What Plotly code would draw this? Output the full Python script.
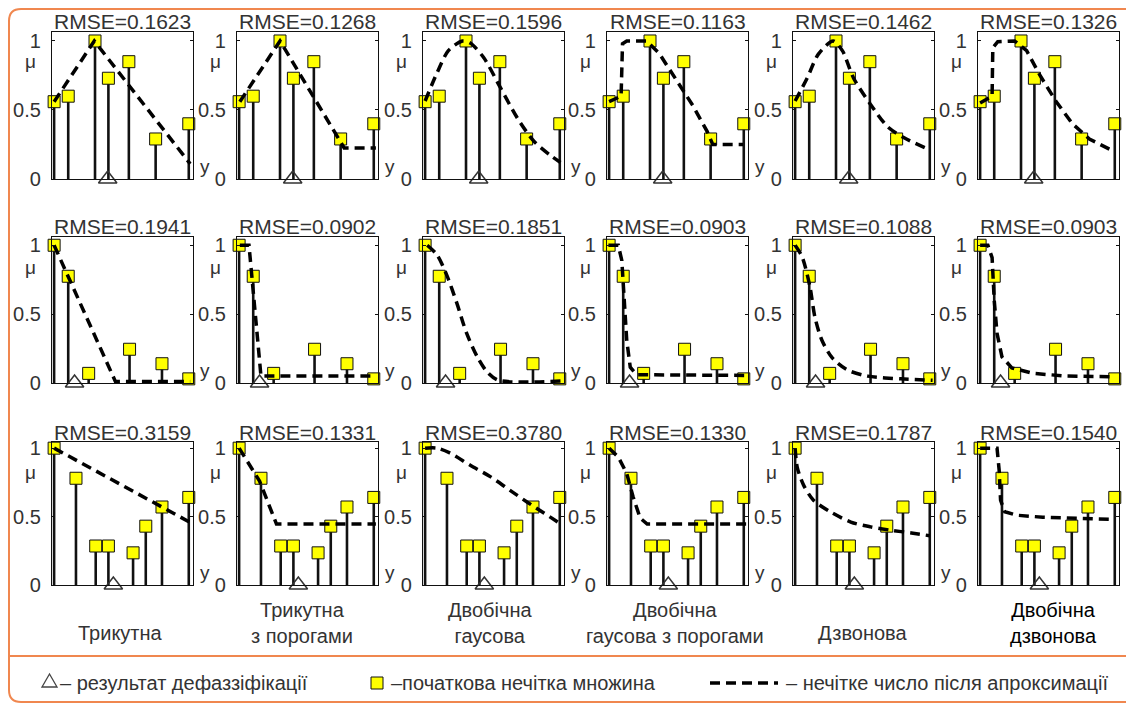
import plotly.graph_objects as go

# ---------------- data ----------------
# normalized abscissa of the initial fuzzy set points (0..1 across each panel)
row1_x = [0.015, 0.115, 0.305, 0.40, 0.545, 0.735, 0.97]
row1_mu = [0.56, 0.60, 1.0, 0.73, 0.85, 0.29, 0.40]
row2_x = [0.015, 0.115, 0.26, 0.55, 0.78, 0.97]
row2_mu = [1.0, 0.775, 0.07, 0.245, 0.14, 0.03]
row3_x = [0.015, 0.17, 0.31, 0.40, 0.575, 0.665, 0.78, 0.97]
row3_mu = [1.0, 0.78, 0.285, 0.285, 0.235, 0.43, 0.57, 0.64]

defuzz = [0.395, 0.16, 0.435]

rmse_row1 = ["0.1623", "0.1268", "0.1596", "0.1163", "0.1462", "0.1326"]
rmse_row2 = ["0.1941", "0.0902", "0.1851", "0.0903", "0.1088", "0.0903"]
rmse_row3 = ["0.3159", "0.1331", "0.3780", "0.1330", "0.1787", "0.1540"]

captions = ["Трикутна", "Трикутна<br>з порогами", "Двобічна<br>гаусова",
            "Двобічна<br>гаусова з порогами", "Дзвонова", "Двобічна<br>дзвонова"]

# fitted membership functions (dashed)
tri_r1_x = [0.015, 0.30, 0.98]
tri_r1_y = [0.56, 1.0, 0.11]
trith_r1_x = [0.02, 0.305, 0.76, 0.985]
trith_r1_y = [0.56, 1.0, 0.225, 0.225]
gauss_r1_x = [0.015, 0.10, 0.18, 0.28, 0.335, 0.43, 0.55, 0.67, 0.785, 0.905, 0.975]
gauss_r1_y = [0.565, 0.77, 0.93, 1.0, 0.985, 0.88, 0.66, 0.44, 0.275, 0.17, 0.12]
gaussth_r1_x = [0.015, 0.10, 0.11, 0.14, 0.28, 0.37, 0.49, 0.61, 0.71, 0.75, 0.965]
gaussth_r1_y = [0.56, 0.60, 0.98, 1.0, 1.0, 0.91, 0.72, 0.53, 0.345, 0.25, 0.25]
bell_r1_x = [0.015, 0.10, 0.18, 0.285, 0.35, 0.43, 0.55, 0.67, 0.785, 0.94]
bell_r1_y = [0.565, 0.73, 0.905, 1.0, 0.93, 0.73, 0.54, 0.38, 0.30, 0.225]
bell2_r1_x = [0.015, 0.10, 0.105, 0.14, 0.26, 0.345, 0.44, 0.555, 0.67, 0.79, 0.945]
bell2_r1_y = [0.55, 0.60, 0.95, 0.995, 1.0, 0.93, 0.75, 0.56, 0.40, 0.29, 0.21]

tri_r2_x = [0.015, 0.45, 0.98]
tri_r2_y = [1.0, 0.01, 0.01]
trith_r2_x = [0.02, 0.085, 0.17, 0.985]
trith_r2_y = [1.0, 1.0, 0.05, 0.05]
gauss_r2_x = [0.03, 0.10, 0.17, 0.24, 0.31, 0.385, 0.455, 0.535, 0.98]
gauss_r2_y = [1.0, 0.93, 0.78, 0.58, 0.36, 0.19, 0.08, 0.02, 0.015]
gaussth_r2_x = [0.01, 0.08, 0.105, 0.12, 0.14, 0.165, 0.21, 0.995]
gaussth_r2_y = [1.0, 1.0, 0.89, 0.60, 0.31, 0.115, 0.06, 0.055]
bell_r2_x = [0.015, 0.065, 0.12, 0.155, 0.205, 0.28, 0.385, 0.53, 0.765, 0.99]
bell_r2_y = [1.0, 0.915, 0.70, 0.48, 0.31, 0.18, 0.095, 0.05, 0.03, 0.02]
bell2_r2_x = [0.015, 0.07, 0.10, 0.115, 0.135, 0.17, 0.24, 0.39, 0.63, 0.97]
bell2_r2_y = [1.0, 1.0, 0.91, 0.60, 0.36, 0.19, 0.11, 0.07, 0.05, 0.045]

tri_r3_x = [0.015, 0.975]
tri_r3_y = [1.0, 0.46]
trith_r3_x = [0.015, 0.16, 0.28, 0.985]
trith_r3_y = [1.0, 0.76, 0.445, 0.445]
gauss_r3_x = [0.015, 0.10, 0.19, 0.335, 0.48, 0.62, 0.74, 0.86, 0.955]
gauss_r3_y = [1.0, 1.0, 0.965, 0.875, 0.79, 0.69, 0.605, 0.525, 0.46]
gaussth_r3_x = [0.015, 0.08, 0.14, 0.185, 0.235, 0.285, 0.99]
gaussth_r3_y = [1.0, 0.935, 0.815, 0.645, 0.49, 0.445, 0.445]
bell_r3_x = [0.015, 0.03, 0.075, 0.145, 0.265, 0.41, 0.55, 0.695, 0.84, 0.97]
bell_r3_y = [1.0, 0.86, 0.73, 0.62, 0.535, 0.46, 0.425, 0.40, 0.38, 0.36]
bell2_r3_x = [0.015, 0.135, 0.15, 0.16, 0.19, 0.275, 0.46, 0.65, 0.95]
bell2_r3_y = [1.0, 1.0, 0.84, 0.62, 0.535, 0.51, 0.495, 0.49, 0.48]

# ---------------- layout helpers ----------------
OFF = 8  # the page body adds an 8px margin around the figure
W, H = 1134 - OFF, 706 - OFF
def X(px):
    return (px - OFF) / W
def Y(py):
    return 1 - (py - OFF) / H

col_left = [52, 237, 423, 607, 793, 978]
box_w = 141
row_top = [32, 237, 442]
row_bot = [179, 383, 585]
row_ytop = [1.065, 1.06, 1.045]

pts = [(row1_x, row1_mu), (row2_x, row2_mu), (row3_x, row3_mu)]
rmse = [rmse_row1, rmse_row2, rmse_row3]
fits = [
    [(tri_r1_x, tri_r1_y), (trith_r1_x, trith_r1_y), (gauss_r1_x, gauss_r1_y),
     (gaussth_r1_x, gaussth_r1_y), (bell_r1_x, bell_r1_y), (bell2_r1_x, bell2_r1_y)],
    [(tri_r2_x, tri_r2_y), (trith_r2_x, trith_r2_y), (gauss_r2_x, gauss_r2_y),
     (gaussth_r2_x, gaussth_r2_y), (bell_r2_x, bell_r2_y), (bell2_r2_x, bell2_r2_y)],
    [(tri_r3_x, tri_r3_y), (trith_r3_x, trith_r3_y), (gauss_r3_x, gauss_r3_y),
     (gaussth_r3_x, gaussth_r3_y), (bell_r3_x, bell_r3_y), (bell2_r3_x, bell2_r3_y)],
]
spline_cols = {2, 4}

FONT = "Liberation Sans, Arial, sans-serif"
TXT = "#333333"
ORANGE = "#F0874F"

fig = go.Figure()
layout = dict(
    width=W, height=H, margin=dict(l=0, r=0, t=0, b=0, autoexpand=False),
    paper_bgcolor="white", plot_bgcolor="white", showlegend=False,
    font=dict(family=FONT, size=20, color=TXT),
)
annotations = []
shapes = []

for r in range(3):
    for c in range(6):
        i = r * 6 + c + 1
        sx = "" if i == 1 else str(i)
        xa, ya = "x" + sx, "y" + sx
        L = col_left[c]
        R = L + box_w
        layout["xaxis" + sx] = dict(
            domain=[X(L), X(R)], range=[0, 1], anchor=ya,
            showline=True, mirror=True, linecolor="#111", linewidth=1.3,
            showticklabels=False, ticks="", showgrid=False, zeroline=False,
            fixedrange=True, automargin=False,
        )
        layout["yaxis" + sx] = dict(
            domain=[Y(row_bot[r]), Y(row_top[r])], range=[0, row_ytop[r]], anchor=xa,
            showline=True, mirror="ticks", linecolor="#111", linewidth=1.3,
            tickvals=[0, 0.5, 1], ticktext=["0", "0.5", "1"],
            ticks="inside", ticklen=3, tickcolor="#111", tickwidth=1,
            ticklabelstandoff=6,
            showgrid=False, zeroline=False, fixedrange=True, automargin=False,
            tickfont=dict(family=FONT, size=20, color=TXT),
        )
        px_, pmu = pts[r]
        # stems + initial fuzzy set markers
        fig.add_trace(go.Scatter(
            x=px_, y=pmu, xaxis=xa, yaxis=ya, mode="markers",
            marker=dict(symbol="square", size=12, color="#FFFF00",
                        line=dict(color="#111", width=1)),
            error_y=dict(type="data", symmetric=False, array=[0] * len(pmu),
                         arrayminus=pmu, width=0, thickness=2.6, color="#111"),
            cliponaxis=False, hoverinfo="skip",
        ))
        fx, fy = fits[r][c]
        fig.add_trace(go.Scatter(
            x=fx, y=fy, xaxis=xa, yaxis=ya, mode="lines",
            line=dict(color="#000", width=3.5, dash="10px,6px",
                      shape="spline" if c in spline_cols else "linear",
                      smoothing=0.8),
            cliponaxis=False, hoverinfo="skip",
        ))
        fig.add_trace(go.Scatter(
            x=[defuzz[r]], y=[0], xaxis=xa, yaxis=ya, mode="markers",
            marker=dict(symbol="triangle-up-open", size=16, color="#333",
                        line=dict(width=1.5)),
            cliponaxis=False, hoverinfo="skip",
        ))
        # RMSE title
        annotations.append(dict(
            x=X(L + box_w / 2), y=Y(row_top[r] - 10), xref="paper", yref="paper",
            text="RMSE=" + rmse[r][c], showarrow=False, xanchor="center", yanchor="middle",
            font=dict(family=FONT, size=21, color=TXT),
        ))
        # mu label
        annotations.append(dict(
            x=X(L - 22), y=Y(row_top[r] + 30), xref="paper", yref="paper",
            text="μ", showarrow=False, xanchor="center", yanchor="middle",
            font=dict(family=FONT, size=19, color=TXT),
        ))
        # y label
        annotations.append(dict(
            x=X(R + 12), y=Y(row_bot[r] - 13), xref="paper", yref="paper",
            text="y", showarrow=False, xanchor="center", yanchor="middle",
            font=dict(family=FONT, size=19, color=TXT),
        ))

# captions under columns
cap_cx = [120, 302, 490, 675, 862, 1053]
for c, cap in enumerate(captions):
    two = "<br>" in cap
    annotations.append(dict(
        x=X(cap_cx[c]), y=Y(623 if two else 633), xref="paper", yref="paper",
        text=cap, showarrow=False, xanchor="center", yanchor="middle",
        font=dict(family=FONT, size=20, color="#000" if c == 5 else TXT),
    ))

# legend (bottom strip)
annotations += [
    dict(x=X(58), y=Y(683), xref="paper", yref="paper", showarrow=False,
         text="– результат дефаззіфікації", xanchor="left", yanchor="middle",
         font=dict(family=FONT, size=20, color=TXT)),
    dict(x=X(389), y=Y(683), xref="paper", yref="paper", showarrow=False,
         text="–початкова нечітка множина", xanchor="left", yanchor="middle",
         font=dict(family=FONT, size=20, color=TXT)),
    dict(x=X(784), y=Y(683), xref="paper", yref="paper", showarrow=False,
         text="– нечітке число після апроксимації", xanchor="left", yanchor="middle",
         font=dict(family=FONT, size=20, color=TXT)),
]
shapes += [
    dict(type="path", xref="paper", yref="paper",
         path=f"M {X(42)},{Y(687)} L {X(57)},{Y(687)} L {X(49.5)},{Y(674)} Z",
         line=dict(color="#444", width=1.3), fillcolor="rgba(0,0,0,0)"),
    dict(type="rect", xref="paper", yref="paper",
         x0=X(371), x1=X(383), y0=Y(689), y1=Y(677),
         fillcolor="#FFFF00", line=dict(color="#111", width=1)),
    dict(type="line", xref="paper", yref="paper",
         x0=X(710), x1=X(778), y0=Y(683), y1=Y(683),
         line=dict(color="#000", width=3.5, dash="10px,6px")),
    # outer rounded frame (open on the right, which lies outside the picture)
    dict(type="path", xref="paper", yref="paper",
         path=(f"M {X(1134)},{Y(9)} L {X(21)},{Y(9)} Q {X(9)},{Y(9)} {X(9)},{Y(21)} "
               f"L {X(9)},{Y(690)} Q {X(9)},{Y(702)} {X(21)},{Y(702)} L {X(1134)},{Y(702)}"),
         line=dict(color=ORANGE, width=2), fillcolor="rgba(0,0,0,0)"),
    # separator
    dict(type="line", xref="paper", yref="paper",
         x0=X(9), x1=X(1134), y0=Y(656), y1=Y(656),
         line=dict(color=ORANGE, width=2)),
]

layout["annotations"] = annotations
layout["shapes"] = shapes
fig.update_layout(**layout)
fig.write_html("out.html")
